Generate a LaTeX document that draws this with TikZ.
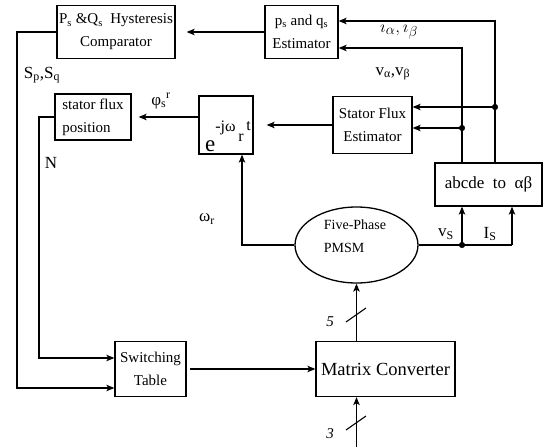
\documentclass[tikz,border=0pt]{standalone}
\usepackage{fontspec}
\setmainfont{Liberation Serif}
\usetikzlibrary{arrows.meta,shapes.geometric}
\begin{document}
\begin{tikzpicture}[x=1pt, y=-1pt,
    block/.style={draw, line width=1.3pt, inner sep=1pt, align=center, font=\fontsize{15}{23}\selectfont},
    flow/.style={line width=1.1pt, -{Stealth[length=8pt, width=6.5pt, inset=2pt]}},
    wire/.style={line width=1.1pt},
    sig/.style={inner sep=0pt, font=\fontsize{17}{20}\selectfont}]
    \useasboundingbox (0, 0) rectangle (550, 447);

    \node [block, minimum width=118pt, minimum height=53pt] (hyst) at (116, 32) {P\textsubscript{s} \&Q\textsubscript{s}\ \ Hysteresis\\Comparator};
    \node [block, minimum width=73pt, minimum height=53pt] (pqest) at (301.5, 32) {p\textsubscript{s} and q\textsubscript{s}\\Estimator};
    \node [block, minimum width=79pt, minimum height=57pt] (sfe) at (372.5, 125) {Stator Flux\\Estimator};
    \node [block, minimum width=54pt, minimum height=58pt] (ebox) at (226, 125) {};
    \node [anchor=base west, inner sep=0pt] (eterm) at (205, 151) {\fontsize{23}{23}\selectfont e\raisebox{20pt}{\fontsize{16}{16}\selectfont -jω\raisebox{-10pt}{\,r}\raisebox{1pt}{\,t}}};
    \node [block, align=left, minimum width=76pt, minimum height=46pt] (sfp) at (93, 117) {stator flux\\position};
    \node [block, minimum width=107pt, minimum height=43pt, font=\fontsize{17}{20}\selectfont] (abc) at (488.5, 184.5) {abcde\ \ to\ \ αβ};
    \node [draw, ellipse, line width=1.3pt, minimum width=123pt, minimum height=76pt] (pmsm) at (356.5, 245) {};
    \node [align=left, inner sep=0pt, font=\fontsize{14}{23}\selectfont] (pmsmtext) at (355, 236) {Five-Phase\\PMSM};
    \node [block, minimum width=71pt, minimum height=55pt] (st) at (150.5, 369) {Switching\\Table};
    \node [block, minimum width=139pt, minimum height=55pt, font=\fontsize{18.5}{22}\selectfont] (mc) at (385.5, 369) {Matrix Converter};

    \node [sig, font=\fontsize{19}{22}\selectfont] (iab) at (399, 30) {$i_{\alpha},i_{\beta}$};
    \node [sig] (vab) at (393, 74) {v\textsubscript{α},v\textsubscript{β}};
    \node [sig] (spsq) at (42, 75) {S\textsubscript{p},S\textsubscript{q}};
    \node [sig] (phisr) at (161, 101) {φ\textsubscript{s}\textsuperscript{r}};
    \node [sig] (nlab) at (51, 163) {N};
    \node [sig] (wr) at (207, 219) {ω\textsubscript{r}};
    \node [sig] (vs) at (446, 234) {v\textsubscript{S}};
    \node [sig] (is) at (490, 234) {I\textsubscript{S}};
    \node [sig, font=\fontsize{15}{18}\itshape] (five) at (330, 322) {5};
    \node [sig, font=\fontsize{15}{18}\itshape] (three) at (330, 434) {3};

    \coordinate (itop) at (495, 21);
    \coordinate (vtop) at (462, 48);
    \coordinate (itap) at (495, 107);
    \coordinate (vtap) at (462, 128);
    \coordinate (wcorner) at (242, 245);
    \coordinate (vstap) at (462, 245);
    \coordinate (istap) at (512, 245);
    \coordinate (sbot) at (17, 388);
    \coordinate (nbot) at (39, 358);
    \coordinate (supply) at (356.5, 447);

    \draw [flow] (abc.north -| itop) -- (itop) -- (itop -| pqest.east);
    \draw [flow] (abc.north -| vtop) -- (vtop) -- (vtop -| pqest.east);
    \draw [flow] (itap) -- (itap -| sfe.east);
    \draw [flow] (vtap) -- (vtap -| sfe.east);
    \draw [fill=black] (itap) circle (2.8);
    \draw [fill=black] (vtap) circle (2.8);

    \draw [flow, shorten >=11pt] (pqest.west) -- (hyst.east);
    \draw [flow, shorten >=13pt] (sfe.west) -- (sfe.west -| ebox.east);
    \draw [flow, shorten >=7pt] (sfp.east -| ebox.west) -- (sfp.east);

    \draw [flow] (pmsm.west) -- (wcorner) -- (wcorner |- ebox.south);
    \draw [wire] (pmsm.east) -- (istap);
    \draw [flow] (vstap) -- (vstap |- abc.south);
    \draw [flow] (istap) -- (istap |- abc.south);
    \draw [fill=black] (vstap) circle (2.8);

    \draw [flow] (hyst.west) -- (hyst.west -| sbot) -- (sbot) -- (sbot -| st.west);
    \draw [flow] (sfp.west) -- (sfp.west -| nbot) -- (nbot) -- (nbot -| st.west);
    \draw [flow, shorten <=3pt] (st.east) -- (mc.west);

    \draw [flow] (pmsm.south |- mc.north) -- (pmsm.south);
    \draw [flow] (supply) -- (supply |- mc.south);
    \draw [wire] (346, 322) -- (366, 308);
    \draw [wire] (346, 430) -- (366, 416);
\end{tikzpicture}
\end{document}
